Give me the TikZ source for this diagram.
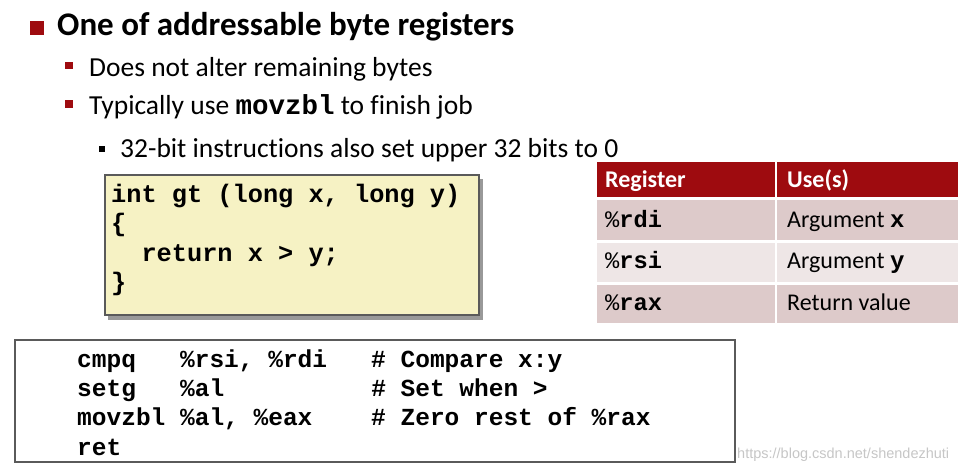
\documentclass[tikz,border=0pt]{standalone}
\usepackage{fontspec}
\setmainfont{Carlito}[Ligatures=NoCommon]
\newfontfamily\codefont{Liberation Mono}
\newfontfamily\markfont{Liberation Sans}
\usepackage{tikz}

\definecolor{cmured}{HTML}{9E0B0F}
\definecolor{rowdark}{HTML}{DDCACA}
\definecolor{rowlight}{HTML}{EEE6E6}
\definecolor{codeyellow}{HTML}{F6F2C4}
\definecolor{boxgray}{HTML}{5A5A5A}

\begin{document}
\begin{tikzpicture}[x=1pt,y=-1pt,
	txt/.style={anchor=base west,inner sep=0pt},
	lvlone/.style={txt,font=\fontsize{33}{33}\selectfont\bfseries},
	lvltwo/.style={txt,font=\fontsize{27.5}{27.5}\selectfont},
	code/.style={txt,font=\fontsize{25.3}{25.3}\selectfont\codefont\bfseries},
	asm/.style={txt,font=\fontsize{24.5}{24.5}\selectfont\codefont\bfseries},
	cell/.style={txt,font=\fontsize{24}{24}\selectfont}]
	\useasboundingbox (0,0) rectangle (965,467);
	% bullets
	\fill[cmured] (30,21) rectangle (44,35);
	\fill[cmured] (65,62) rectangle (73,69);
	\fill[cmured] (65,100) rectangle (73,108);
	\fill[black] (99,146) rectangle (105,152);
	\node[lvlone] (title) at (57,35) {One of addressable byte registers};
	\node[lvltwo] (bytes) at (89,76) {Does not alter remaining bytes};
	\node[lvltwo] (movz) at (89,114) {Typically use {\codefont\bfseries movzbl} to finish job};
	\node[lvltwo] (upper) at (120,157) {32-bit instructions also set upper 32 bits to 0};
	% C code box
	\fill[gray!80] (108,179) rectangle (483,320);
	\draw[boxgray,fill=codeyellow,line width=1.2pt] (105,175) rectangle (479,315);
	\node[code] (c1) at (111,202) {int~gt~(long~x,~long~y)};
	\node[code] (c2) at (111,231.5) {\{};
	\node[code] (c3) at (111,261) {~~return~x~>~y;};
	\node[code] (c4) at (111,290.5) {\}};
	% register table
	\fill[cmured] (597,162) rectangle (775,197);
	\fill[cmured] (777,162) rectangle (958,197);
	\foreach \top/\bot/\col in {200/240/rowdark, 243/282/rowlight, 285/323/rowdark}
	{
	\fill[\col] (597,\top) rectangle (775,\bot);
	\fill[\col] (777,\top) rectangle (958,\bot);
	}
	\node[cell,text=white,font=\fontsize{24}{24}\selectfont\bfseries] (hreg) at (605,187) {Register};
	\node[cell,text=white,font=\fontsize{24}{24}\selectfont\bfseries] (huse) at (787,187) {Use(s)};
	\node[cell] (rdi) at (605,227) {\codefont\fontsize{23.7}{23.7}\selectfont\%\textbf{rdi}};
	\node[cell] (rsi) at (605,268) {\codefont\fontsize{23.7}{23.7}\selectfont\%\textbf{rsi}};
	\node[cell] (rax) at (605,310) {\codefont\fontsize{23.7}{23.7}\selectfont\%\textbf{rax}};
	\node[cell] (argx) at (787,227) {Argument {\codefont\bfseries x}};
	\node[cell] (argy) at (787,268) {Argument {\codefont\bfseries y}};
	\node[cell] (ret) at (787,310) {Return value};
	% assembly box
	\draw[boxgray,line width=1.2pt] (15,340) rectangle (735,462);
	\node[asm] (a1) at (77,367) {cmpq~~~\%rsi,~\%rdi~~~\#~Compare~x:y};
	\node[asm] (a2) at (77,396.3) {setg~~~\%al~~~~~~~~~~\#~Set~when~>};
	\node[asm] (a3) at (77,425.6) {movzbl~\%al,~\%eax~~~~\#~Zero~rest~of~\%rax};
	\node[asm] (a4) at (77,455) {ret};
	\node[txt,font=\fontsize{14.5}{14.5}\selectfont\markfont,text=gray!45] (mark) at (737,458) {https://blog.csdn.net/shendezhuti};
\end{tikzpicture}
\end{document}
